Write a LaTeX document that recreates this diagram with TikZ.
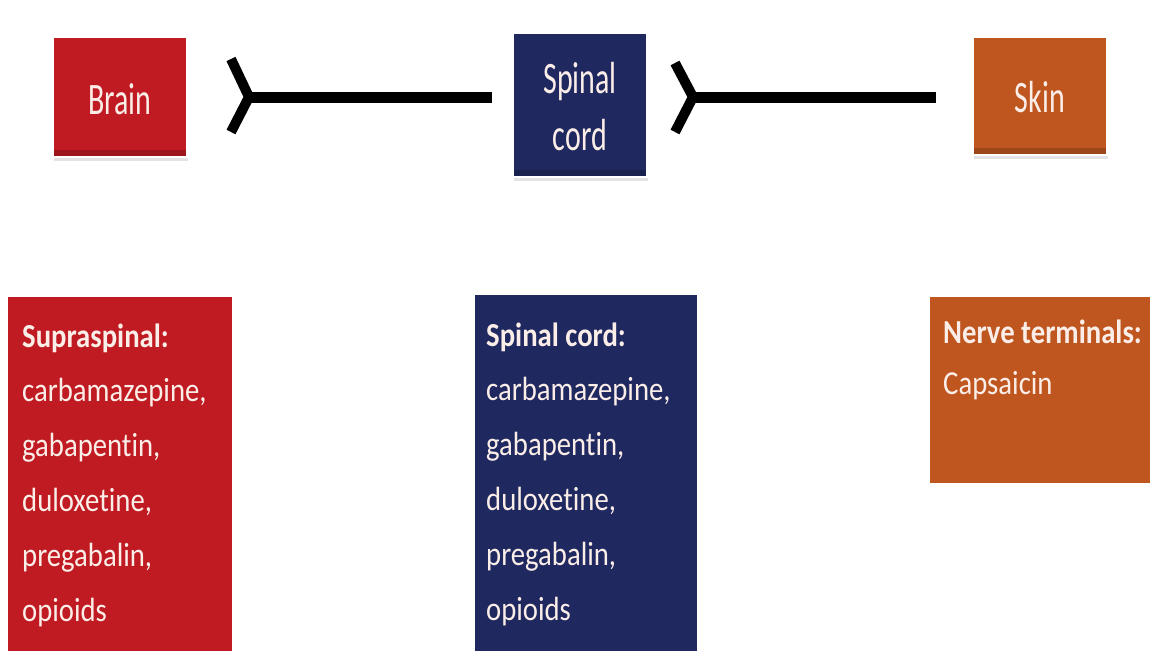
\documentclass[tikz,border=0pt]{standalone}
\usepackage{fontspec}
\setmainfont{Carlito}[RawFeature=-liga]
\usetikzlibrary{shadows}
\definecolor{cred}{HTML}{C01B22}
\definecolor{cnavy}{HTML}{1F2960}
\definecolor{corange}{HTML}{C0561F}
\definecolor{ctext}{HTML}{FBEEE8}
\tikzset{
  topbox/.style={draw=white, line width=2pt, inner sep=0pt, text=ctext,
    drop shadow={shadow xshift=1pt, shadow yshift=-4pt, opacity=.22, fill=gray},
    path picture={\fill[black,opacity=.18] (path picture bounding box.south west) rectangle ([yshift=7pt]path picture bounding box.south east);}},
  listbox/.style={inner sep=0pt, anchor=north west},
  listtext/.style={inner sep=0pt, anchor=base west, text=ctext, align=left},
  conn/.style={line width=11pt, black},
  chev/.style={line width=10pt, black, miter limit=10}
}
\newcommand{\toplabel}[1]{\scalebox{1}[1.5]{\fontsize{30}{38}\selectfont\begin{tabular}[t]{@{}c@{}}#1\end{tabular}}}
\newcommand{\listlabel}[1]{\scalebox{1}[1.17]{\fontsize{28.7}{47}\selectfont\begin{tabular}[t]{@{}l@{}}#1\end{tabular}}}
\begin{document}
\begin{tikzpicture}[x=1pt,y=-1pt]
\useasboundingbox[fill=white] (0,0) rectangle (1150,651);
% top boxes
\node[topbox, fill=cred, minimum width=134pt, minimum height=120pt] (brain) at (120,97) {};
\node[topbox, fill=cnavy, minimum width=134pt, minimum height=144pt] (spinal) at (580,105) {};
\node[topbox, fill=corange, minimum width=134pt, minimum height=118pt] (skin) at (1040,96) {};
\node[text=ctext, inner sep=0pt, anchor=base] (brainlbl) at (120,114) {\toplabel{Brain}};
\node[text=ctext, inner sep=0pt, anchor=base] (spinallbl) at (580,93) {\toplabel{Spinal\\cord}};
\node[text=ctext, inner sep=0pt, anchor=base] (skinlbl) at (1040,112) {\toplabel{Skin}};
% connectors
\coordinate (t1) at (249,97);
\coordinate (t2) at (693,97);
\draw[chev] (231,59) -- (t1) -- (231,132);
\draw[chev] (675,63) -- (t2) -- (675,132);
\draw[conn] (t1) -- ([xshift=-20pt]t1 -| spinal.west);
\draw[conn] (t2) -- ([xshift=-36pt]t2 -| skin.west);
% bottom boxes
\node[listbox, fill=cred, minimum width=224pt, minimum height=354pt] (supbox) at (8,297) {};
\node[listbox, fill=cnavy, minimum width=222pt, minimum height=356pt] (spbox) at (475,295) {};
\node[listbox, fill=corange, minimum width=220pt, minimum height=186pt] (nbox) at (930,297) {};
\node[listtext] (suptext) at (22,347) {\listlabel{\textbf{Supraspinal:}\\carbamazepine,\\gabapentin,\\duloxetine,\\pregabalin,\\opioids}};
\node[listtext] (sptext) at (486,346) {\listlabel{\textbf{Spinal cord:}\\carbamazepine,\\gabapentin,\\duloxetine,\\pregabalin,\\opioids}};
\node[listtext] (ntext) at (943,343) {\scalebox{1}[1.17]{\fontsize{28.7}{44}\selectfont\begin{tabular}[t]{@{}l@{}}\textbf{Nerve terminals:}\\Capsaicin\end{tabular}}};
\end{tikzpicture}
\end{document}
